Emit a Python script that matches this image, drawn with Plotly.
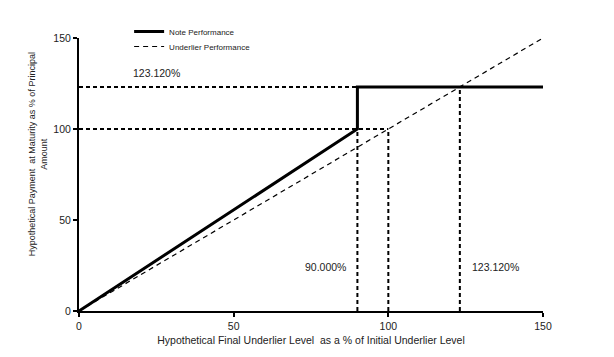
import plotly.graph_objects as go

# Data
note_x = [0, 90, 90, 150]
note_y = [0, 100, 123.12, 123.12]
underlier_x = [0, 150]
underlier_y = [0, 150]
cap_level = 123.12
buffer_level = 90.0
initial_level = 100.0
ref_labels = ["123.120%", "90.000%", "123.120%"]
tick_vals = [0, 50, 100, 150]

FONT = "Liberation Sans, Arial, sans-serif"
black = "#000000"
TXT = "#222222"

fig = go.Figure()

ref_style = dict(color=black, width=2, dash="4px,3px")
# horizontal reference lines
fig.add_trace(go.Scatter(x=[0, cap_level], y=[cap_level, cap_level], mode="lines",
                         line=ref_style, showlegend=False, hoverinfo="skip"))
fig.add_trace(go.Scatter(x=[0, initial_level], y=[initial_level, initial_level], mode="lines",
                         line=ref_style, showlegend=False, hoverinfo="skip"))
# vertical reference lines
fig.add_trace(go.Scatter(x=[buffer_level, buffer_level], y=[0, initial_level], mode="lines",
                         line=ref_style, showlegend=False, hoverinfo="skip"))
fig.add_trace(go.Scatter(x=[initial_level, initial_level], y=[0, initial_level], mode="lines",
                         line=ref_style, showlegend=False, hoverinfo="skip"))
fig.add_trace(go.Scatter(x=[cap_level, cap_level], y=[0, cap_level], mode="lines",
                         line=ref_style, showlegend=False, hoverinfo="skip"))

fig.add_trace(go.Scatter(x=note_x, y=note_y, mode="lines", name="Note Performance",
                         line=dict(color=black, width=3), legend="legend"))
fig.add_trace(go.Scatter(x=underlier_x, y=underlier_y, mode="lines", name="Underlier Performance",
                         line=dict(color=black, width=1.2, dash="5px,4px"), legend="legend2"))

fig.add_annotation(x=0, y=cap_level, xref="x", yref="y", text=ref_labels[0], showarrow=False,
                   xanchor="left", yanchor="bottom", xshift=52, yshift=6,
                   font=dict(family=FONT, size=10.5, color=TXT))
fig.add_annotation(x=buffer_level, y=24, xref="x", yref="y", text=ref_labels[1], showarrow=False,
                   xanchor="right", xshift=-9,
                   font=dict(family=FONT, size=10.5, color=TXT))
fig.add_annotation(x=cap_level, y=24, xref="x", yref="y", text=ref_labels[2], showarrow=False,
                   xanchor="left", xshift=10,
                   font=dict(family=FONT, size=10.5, color=TXT))

# y-axis title (placed as text, offset upward like the reference)
fig.add_annotation(x=-0.088, y=0.575, xref="paper", yref="paper",
                   text="Hypothetical Payment  at Maturity as % of Principal<br>Amount",
                   textangle=-90, showarrow=False, xanchor="center", yanchor="middle",
                   font=dict(family=FONT, size=9, color=TXT))

axis_common = dict(range=[0, 150], tickvals=tick_vals, showgrid=False, zeroline=False,
                   showline=True, linecolor=black, linewidth=2, ticks="outside",
                   ticklen=4, tickwidth=1.5, tickcolor=black, automargin=False,
                   tickfont=dict(family=FONT, size=10.5, color=TXT))

legend_common = dict(xanchor="left", yanchor="top", bgcolor="rgba(0,0,0,0)",
                     font=dict(family=FONT, size=8, color=TXT), itemwidth=30)

# Page body has an 8px default margin, so margins are offset by 8px
fig.update_layout(
    width=614, height=357,
    margin=dict(l=71, r=79, t=30, b=54, autoexpand=False),
    paper_bgcolor="white", plot_bgcolor="white",
    font=dict(family=FONT, color=TXT),
    xaxis=dict(**axis_common,
               title=dict(text="Hypothetical Final Underlier Level  as a % of Initial Underlier Level",
                          font=dict(family=FONT, size=10.5), standoff=6)),
    yaxis=dict(**axis_common),
    legend=dict(x=0.108, y=1.077, **legend_common),
    legend2=dict(x=0.108, y=1.022, **legend_common),
    showlegend=True,
)

fig.write_html("out.html")
